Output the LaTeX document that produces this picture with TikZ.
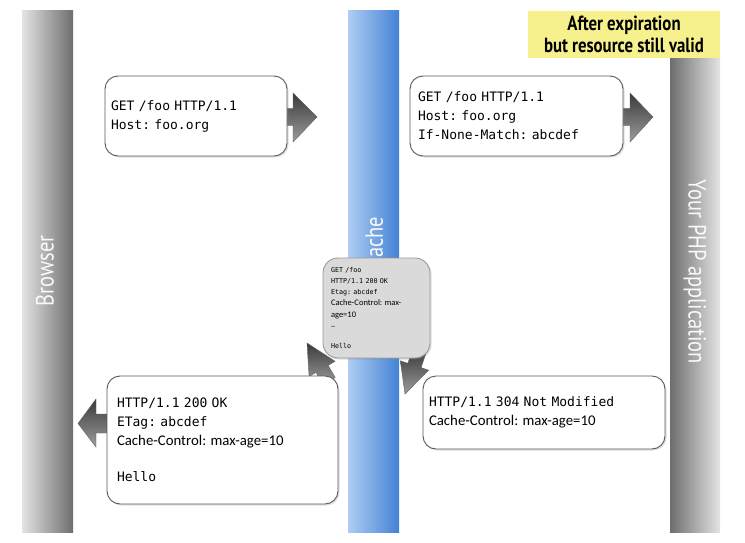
\documentclass[tikz,border=0pt]{standalone}
\usepackage{fontspec}
\usetikzlibrary{shadows}
\frenchspacing
\newfontfamily\monof[WordSpace={1,0,0}]{DejaVu Sans Mono}
\newfontfamily\propf{Carlito}
\newfontfamily\condf[FakeStretch=0.82]{PT Sans}
\definecolor{boxline}{HTML}{5A5A5A}
\definecolor{grayfill}{HTML}{DADADA}
\definecolor{labelyellow}{HTML}{F6F18C}
\definecolor{barlight}{HTML}{E4E4E4}
\definecolor{bardark}{HTML}{6E6E6E}
\definecolor{bluelight}{HTML}{AECDF4}
\definecolor{bluedark}{HTML}{4382D4}
\definecolor{arrdark}{HTML}{3A3A3A}
\definecolor{arrlight}{HTML}{9C9C9C}
\tikzset{
  msgbox/.style={draw=boxline, line width=0.9pt, fill=white, rounded corners=13pt,
    align=left, inner ysep=0pt, drop shadow={opacity=0.25, shadow xshift=1.5pt, shadow yshift=-1.5pt}},
  cachebox/.style={draw=gray!80, line width=0.9pt, fill=grayfill, rounded corners=15pt,
    align=left, inner ysep=0pt, drop shadow={opacity=0.25, shadow xshift=1.5pt, shadow yshift=-1.5pt}},
  blockarrow/.style={top color=arrdark, bottom color=arrlight, draw=arrdark!80, line width=0.4pt},
  barlabel/.style={text=white!95!gray, font=\condf\fontsize{25}{28}\selectfont},
  mono/.style={font=\monof\fontsize{13}{19}\selectfont}
}
\begin{document}
\begin{tikzpicture}[x=1pt,y=-1pt]
\useasboundingbox (0,0) rectangle (745,543);
\fill[white] (0,0) rectangle (745,543);
% lanes
\shade[left color=barlight, right color=bardark] (22,11) rectangle (73,532);
\shade[left color=bluelight, right color=bluedark] (348,11) rectangle (399,532);
\shade[left color=bardark, right color=barlight] (670,58) rectangle (720,532);
\node[fill=labelyellow, minimum width=192pt, minimum height=47pt, inner sep=0pt, align=center,
  font=\condf\bfseries\fontsize{20.5}{22.5}\selectfont] (note) at (624,34.5) {After expiration\\but resource still valid};
\node[barlabel, rotate=90] (browser) at (45,271) {Browser};
\node[barlabel, rotate=90] (cache) at (374,243) {Cache};
\node[barlabel, rotate=-90] (php) at (695,272) {Your PHP application};
% block arrows
\shade[blockarrow] (280,108.5) -- (293,108.5) -- (293,93) -- (317,117) -- (293,142) -- (293,125.5) -- (280,125.5) -- cycle;
\shade[blockarrow] (616,108.5) -- (630,108.5) -- (630,93) -- (653,117) -- (630,142) -- (630,125.5) -- (616,125.5) -- cycle;
\shade[blockarrow] (114,414) -- (96,414) -- (96,399) -- (78,423.5) -- (96,447) -- (96,433) -- (114,433) -- cycle;
\shade[blockarrow] (307,343) -- (335.1,361.3) -- (328.1,365.4) -- (335.2,377.5) -- (323.1,384.5) -- (316.0,372.4) -- (309.1,376.5) -- cycle;
\shade[blockarrow] (405,394) -- (400.3,360.8) -- (407.9,363.3) -- (412.3,350.0) -- (425.5,354.4) -- (421.1,367.7) -- (428.7,370.2) -- cycle;
% message boxes
\node[msgbox, mono, minimum width=182pt, minimum height=80pt, text width=170pt, inner xsep=6pt] (req1) at (196,116)
  {GET /foo HTTP/1.1\\Host: foo.org};
\node[msgbox, mono, minimum width=213pt, minimum height=80pt, text width=197pt, inner xsep=8pt] (req2) at (516.5,116)
  {GET /foo HTTP/1.1\\Host: foo.org\\If-None-Match: abcdef};
\node[msgbox, mono, minimum width=231pt, minimum height=128pt, text width=211pt, inner xsep=10pt] (resp200) at (222.5,440)
  {HTTP/1.1 200 OK\\ETag: abcdef\\{\propf\fontsize{14.8}{19}\selectfont Cache-Control: max-age=10}\\[17pt]Hello};
\node[msgbox, mono, minimum width=242pt, minimum height=73pt, text width=230pt, inner xsep=6pt] (resp304) at (544,412.5)
  {HTTP/1.1 304 Not Modified\\{\propf\fontsize{14.8}{19}\selectfont Cache-Control: max-age=10}};
\node[cachebox, font=\monof\fontsize{6.7}{11.2}\selectfont, minimum width=107pt, minimum height=100pt, text width=91pt, inner xsep=8pt] (stored) at (376.5,308)
  {GET /foo\\HTTP/1.1 200 OK\\Etag: abcdef\\{\propf\fontsize{8.5}{11.2}\selectfont Cache-Control: max-}\\{\propf\fontsize{8.5}{11.2}\selectfont age=10}\\–\\[9pt]Hello};
\end{tikzpicture}
\end{document}
